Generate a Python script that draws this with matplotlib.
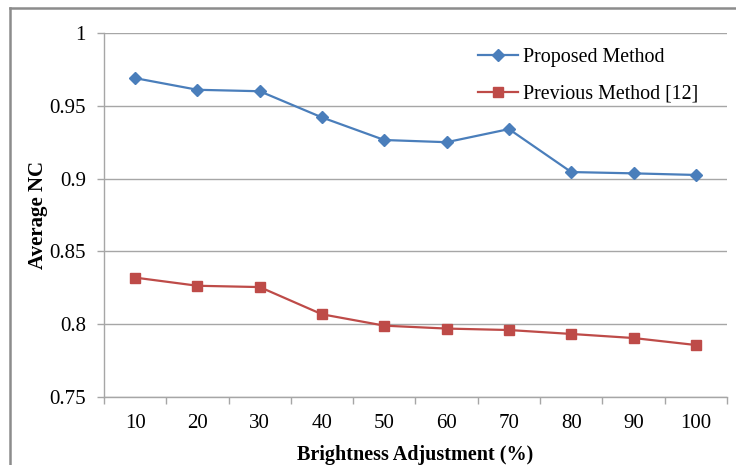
import matplotlib
matplotlib.use("Agg")
import matplotlib.pyplot as plt
from matplotlib.lines import Line2D

plt.rcParams['font.family'] = ['Liberation Serif', 'DejaVu Serif']

brightness = [10, 20, 30, 40, 50, 60, 70, 80, 90, 100]
proposed = [0.969, 0.961, 0.960, 0.942, 0.9265, 0.925, 0.934, 0.9045, 0.9036, 0.9025]
previous = [0.832, 0.8264, 0.8255, 0.8068, 0.799, 0.797, 0.796, 0.7933, 0.7905, 0.7857]
y_ticks = [0.75, 0.8, 0.85, 0.9, 0.95, 1.0]
y_labels = ["0.75", "0.8", "0.85", "0.9", "0.95", "1"]

W, H = 736, 465
fig = plt.figure(figsize=(W / 100, H / 100), dpi=100)
ax = fig.add_axes([104 / W, 1 - 397 / H, (727 - 104) / W, (397 - 33) / H])

grid_col = "#a6a6a6"
blue = "#4a7ebb"
red = "#be4b48"

pos = list(range(len(brightness)))
ax.plot(pos, proposed, color=blue, lw=1.6, marker='D', markersize=6.5,
        label="Proposed Method", zorder=3)
ax.plot(pos, previous, color=red, lw=1.6, marker='s', markersize=7.5,
        label="Previous Method [12]", zorder=3)

ax.set_xlim(-0.5, len(brightness) - 0.5)
ax.set_ylim(0.75, 1.0)
ax.set_yticks(y_ticks)
ax.set_yticklabels(y_labels)
ax.set_xticks(pos)
ax.set_xticklabels([str(b) for b in brightness])
ax.set_xticks([p - 0.5 for p in pos] + [len(pos) - 0.5], minor=True)
ax.tick_params(axis='x', which='major', length=0, pad=12, labelsize=15)
ax.tick_params(axis='x', which='minor', length=5, color=grid_col, width=1)
ax.tick_params(axis='y', length=5, color=grid_col, width=1, pad=8, labelsize=15)

ax.grid(axis='y', color=grid_col, lw=1)
ax.set_axisbelow(True)
for s in ['top', 'right']:
    ax.spines[s].set_visible(False)
for s in ['left', 'bottom']:
    ax.spines[s].set_color(grid_col)
    ax.spines[s].set_linewidth(1)

ax.set_ylabel("Average NC", fontsize=15, fontweight='bold', labelpad=1)
ax.set_xlabel("Brightness Adjustment (%)", fontsize=14.5, fontweight='bold', labelpad=9)

ax.legend(loc='upper left', bbox_to_anchor=(478 / W, 1 - 48 / H),
          bbox_transform=fig.transFigure, frameon=False, fontsize=14.4,
          borderpad=0, borderaxespad=0, handlelength=2.0, handletextpad=0.25,
          labelspacing=0.9)

# chart frame
frame_col = "#8c8c8c"
fig.add_artist(Line2D([10 / W, 1.0], [1 - 8 / H, 1 - 8 / H], color=frame_col,
                      lw=1.8, transform=fig.transFigure))
fig.add_artist(Line2D([10 / W, 10 / W], [1 - 8 / H, 0.0], color=frame_col,
                      lw=1.8, transform=fig.transFigure))

fig.savefig("out.png", dpi=100)
